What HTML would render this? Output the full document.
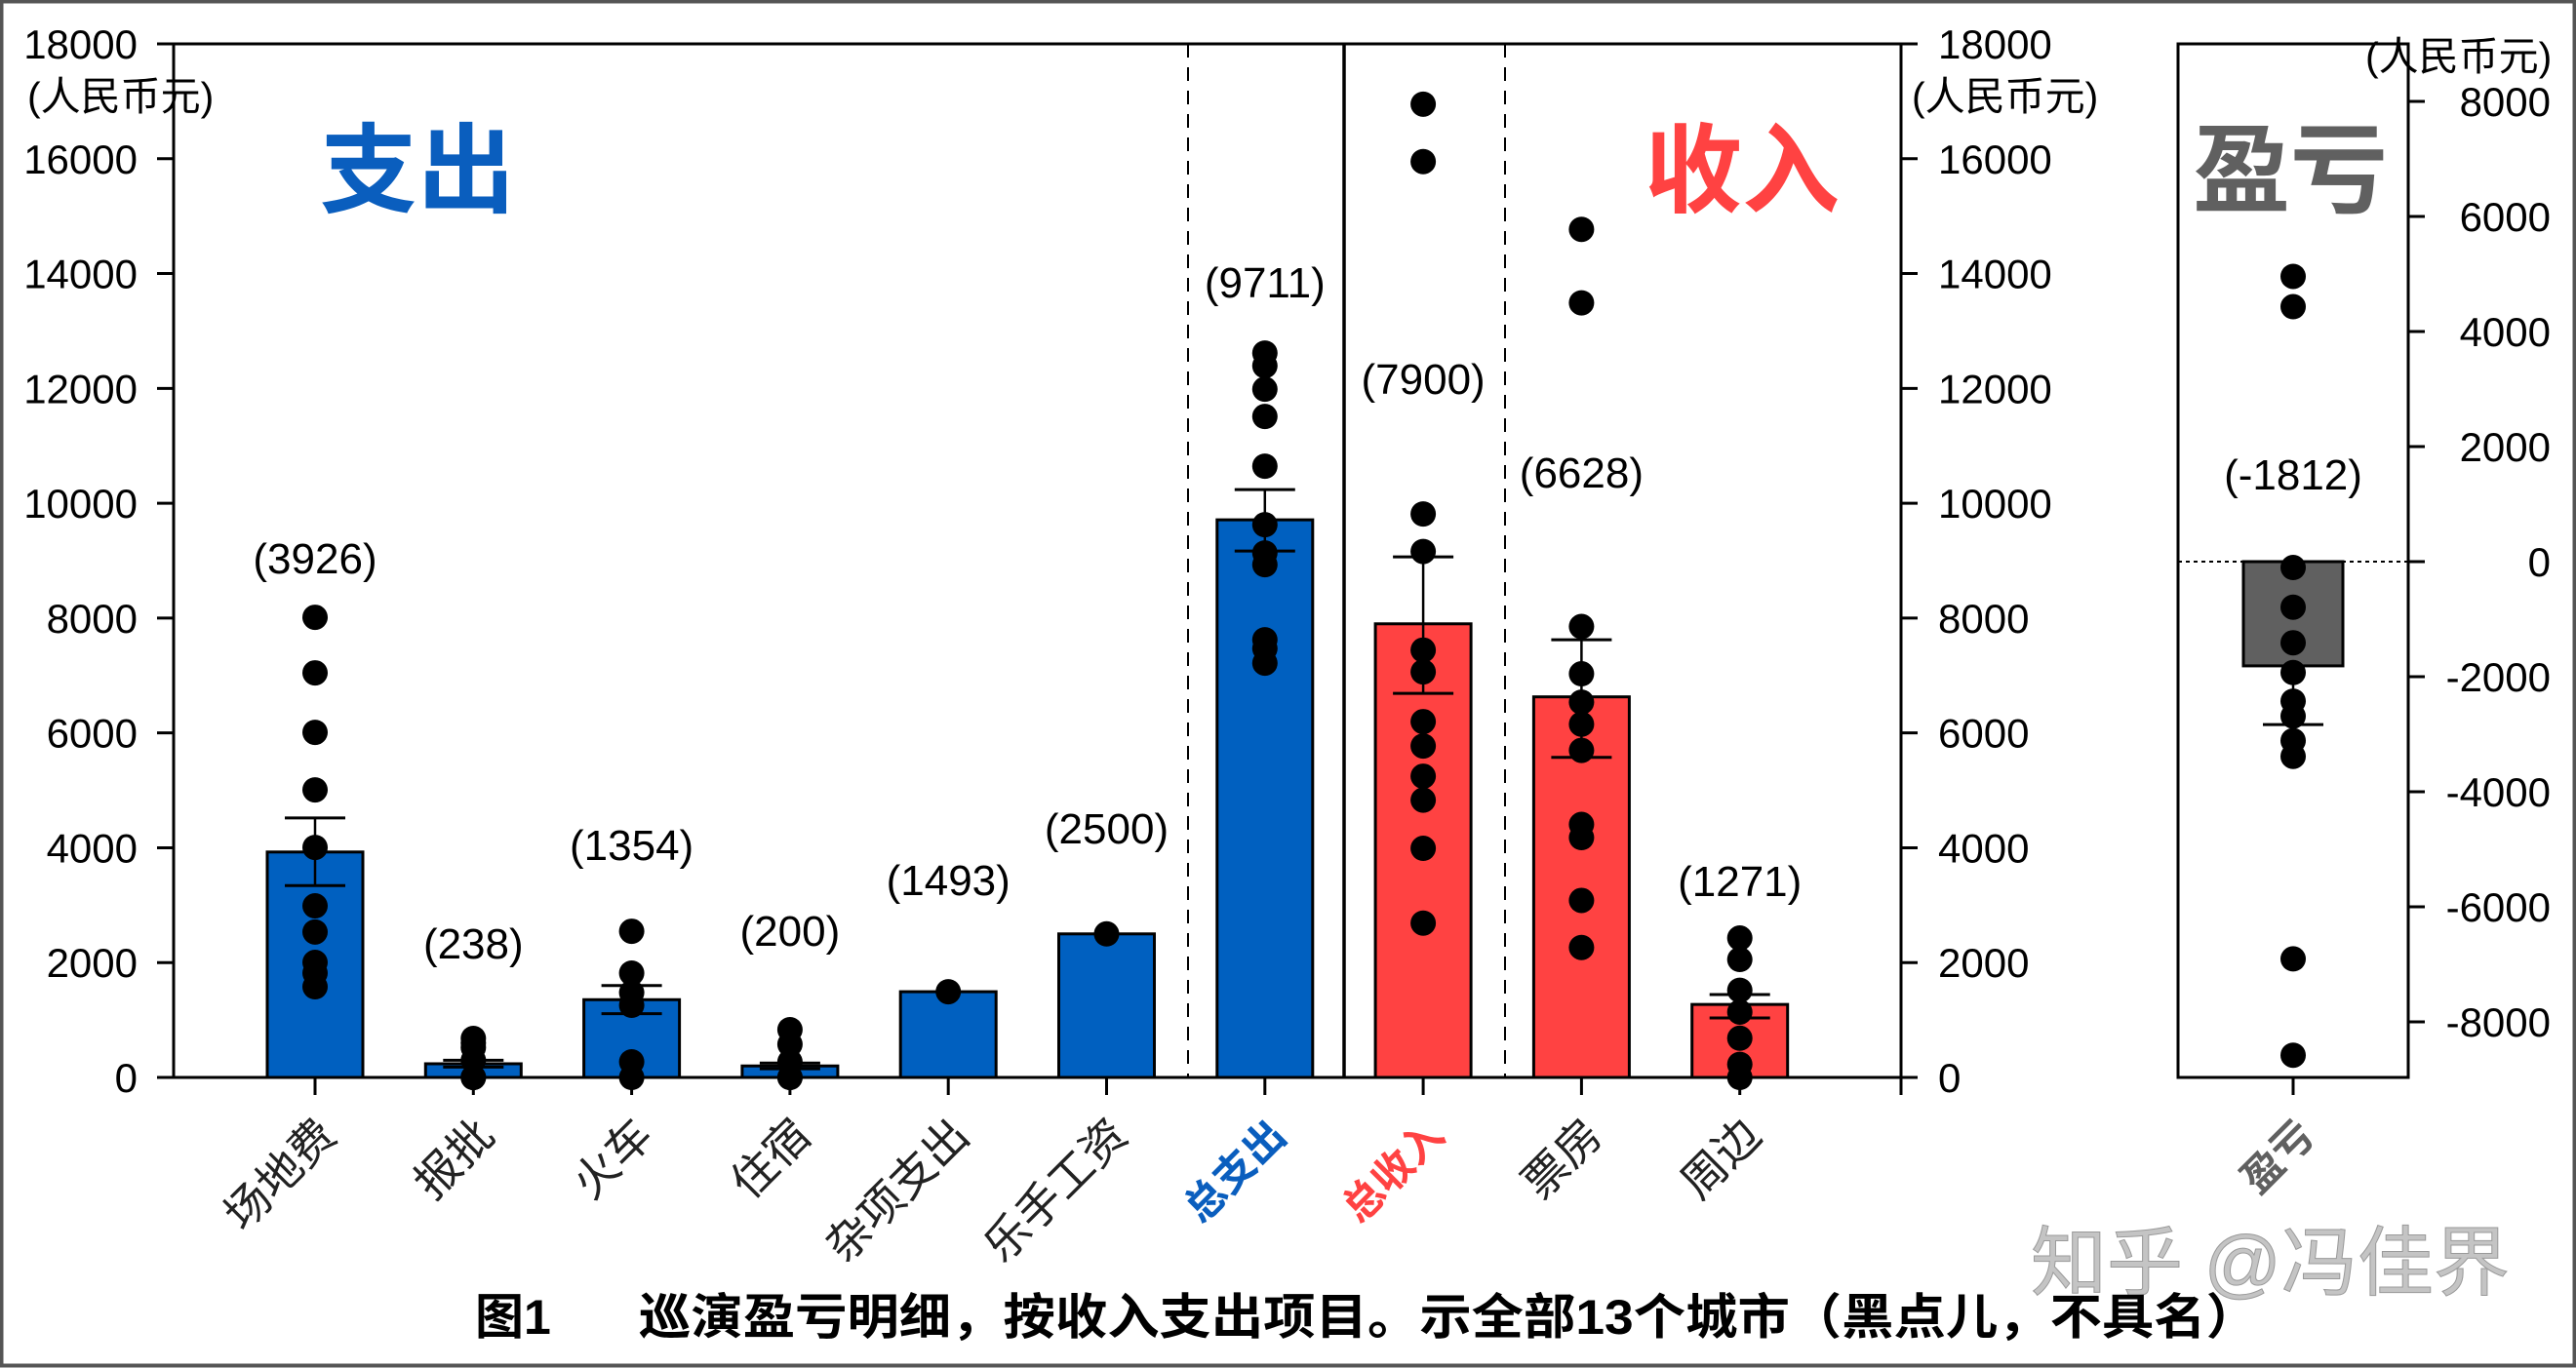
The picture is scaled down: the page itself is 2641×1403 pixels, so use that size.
<!DOCTYPE html>
<html><head><meta charset="utf-8">
<style>
html,body{margin:0;padding:0;background:#fff;}
svg{display:block;}
text{font-family:"Liberation Sans","Noto Sans CJK SC",sans-serif;}
</style></head>
<body>
<svg id="chart" width="2641" height="1403" viewBox="0 0 2641 1403" xmlns="http://www.w3.org/2000/svg">
<rect x="1.5" y="1.5" width="2638" height="1399" fill="#fff" stroke="#555" stroke-width="4"/>
<g id="g"></g>
</svg>
<script>
const categories = ["场地费","报批","火车","住宿","杂项支出","乐手工资","总支出","总收入","票房","周边"];
const means = [3926,238,1354,200,1493,2500,9711,7900,6628,1271];
const errHi = [4520,300,1600,250,1493,2500,10237,9066,7623,1443];
const errLo = [3340,180,1110,150,1493,2500,9168,6689,5574,1036];
const points = [
 [8014,7046,6010,5008,4006,2988,2533,2003,1817,1579],
 [680,600,520,300,0,0,0],
 [2546,1817,1477,1256,272,0],
 [832,577,272,0,0],
 [1493],
 [2500],
 [12615,12394,11986,11511,10645,9626,9134,8930,7623,7470,7215],
 [16950,15950,9813,9160,7443,7063,6197,5772,5246,4830,3990,2688],
 [14770,13490,7853,7030,6536,6152,5696,4406,4177,3083,2263],
 [2428,2054,1518,1138,683,228,0]
];
const labelVals = [9030,2330,4040,2550,3430,4330,13840,12160,10530,3410];
const leftTicks = [0,2000,4000,6000,8000,10000,12000,14000,16000,18000];
const plMean = [-1812];
const plErrLo = [-2832];
const plPoints = [4958,4432,-102,-792,-1410,-1928,-2425,-2686,-3112,-3385,-6905,-8580];
const plTicks = [-8000,-6000,-4000,-2000,0,2000,4000,6000,8000];
const plLabelVal = [1510];

const NS="http://www.w3.org/2000/svg";
const g=document.getElementById('g');
function el(tag,attrs,parent){const e=document.createElementNS(NS,tag);for(const k in attrs)e.setAttribute(k,attrs[k]);(parent||g).appendChild(e);return e;}
const y0=1105, yTop=45;
const yL=v=>y0-(v/18000)*(y0-yTop);
const xL=i=>323+i*162.3;
const yR=v=>576-(v/9000)*(576-45);
const colors=["#0060C0","#0060C0","#0060C0","#0060C0","#0060C0","#0060C0","#0060C0","#FF4242","#FF4242","#FF4242"];
const bw=98;

let e;
e=el('rect',{x:178,y:45,width:1771,height:1060,fill:'none',stroke:'#000','stroke-width':3});


e=el('line',{x1:1218,y1:45,x2:1218,y2:1105,stroke:'#000','stroke-width':2,'stroke-dasharray':'14,10'});


e=el('line',{x1:1378,y1:45,x2:1378,y2:1105,stroke:'#000','stroke-width':3.5});


e=el('line',{x1:1543,y1:45,x2:1543,y2:1105,stroke:'#000','stroke-width':2,'stroke-dasharray':'14,10'});



leftTicks.forEach(v=>{
  const y=yL(v);
  e=el('line',{x1:161,y1:y,x2:178,y2:y,stroke:'#000','stroke-width':3});
  
  
  e=el('text',{x:141,y:y+15,'font-size':42,'text-anchor':'end',fill:'#000'});
  e.textContent=v;
  
  
  e=el('line',{x1:1949,y1:y,x2:1966,y2:y,stroke:'#000','stroke-width':3});
  
  
  e=el('text',{x:1987,y:y+15,'font-size':42,'text-anchor':'start',fill:'#000'});
  e.textContent=v;
  
  
});
e=el('text',{x:28,y:113,'font-size':41,fill:'#000'});e.textContent='(人民币元)';


e=el('text',{x:1960,y:113,'font-size':41,fill:'#000'});e.textContent='(人民币元)';



categories.forEach((c,i)=>{
  const x=xL(i), yt=yL(means[i]);
  e=el('rect',{x:x-bw/2,y:yt,width:bw,height:y0-yt,fill:colors[i],stroke:'#000','stroke-width':3});
  
  
  e=el('line',{x1:x,y1:y0,x2:x,y2:y0+18,stroke:'#000','stroke-width':3});
  
  
  if(errHi[i]!==errLo[i]){
    e=el('line',{x1:x,y1:yL(errHi[i]),x2:x,y2:yL(errLo[i]),stroke:'#000','stroke-width':2.5});
    
    
    [errHi[i],errLo[i]].forEach(v=>{
      e=el('line',{x1:x-31,y1:yL(v),x2:x+31,y2:yL(v),stroke:'#000','stroke-width':3});
      
      
    });
  }
  points[i].forEach(v=>{
    e=el('circle',{cx:x,cy:yL(v),r:13,fill:'#000'});
    
    
  });
  e=el('text',{x:x,y:yL(labelVals[i])+15,'font-size':44,'text-anchor':'middle',fill:'#000'});
  e.textContent='('+means[i]+')';
  
  
  const special=(i===6||i===7);
  e=el('text',{x:0,y:0,'font-size':special?42:46,'text-anchor':'end',fill:i===6?'#0A5EBE':(i===7?'#FF4242':'#222'),'font-weight':special?'bold':'normal',
    'font-family':special?'"Liberation Sans","Noto Sans CJK SC",sans-serif':'"Liberation Serif","Noto Serif CJK SC",serif',
    transform:`translate(${x+24},${y0+62}) rotate(-45)`});
  e.textContent=c;
  
  
});
e=el('line',{x1:1949,y1:y0,x2:1949,y2:y0+18,stroke:'#000','stroke-width':3});



e=el('text',{x:328,y:210,'font-size':100,'font-weight':'bold',fill:'#0A5EBE'});e.textContent='支出';


e=el('text',{x:1686,y:210,'font-size':100,'font-weight':'bold',fill:'#FF4242'});e.textContent='收入';


e=el('text',{x:2248,y:210,'font-size':100,'font-weight':'bold',fill:'#606060'});e.textContent='盈亏';



e=el('rect',{x:2233,y:45,width:236,height:1060,fill:'none',stroke:'#000','stroke-width':3});


e=el('line',{x1:2233,y1:yR(0),x2:2469,y2:yR(0),stroke:'#000','stroke-width':2,'stroke-dasharray':'4,4'});


plTicks.forEach(v=>{
  const y=yR(v);
  e=el('line',{x1:2469,y1:y,x2:2486,y2:y,stroke:'#000','stroke-width':3});
  
  
  e=el('text',{x:2615,y:y+15,'font-size':42,'text-anchor':'end',fill:'#000'});
  e.textContent=v;
  
  
});
e=el('text',{x:2425,y:72,'font-size':41,fill:'#000'});e.textContent='(人民币元)';


const px=2351;
e=el('rect',{x:px-51,y:yR(0),width:102,height:yR(plMean[0])-yR(0),fill:'#606060',stroke:'#000','stroke-width':3});


e=el('line',{x1:px,y1:yR(plMean[0]),x2:px,y2:yR(plErrLo[0]),stroke:'#000','stroke-width':2.5});


e=el('line',{x1:px-31,y1:yR(plErrLo[0]),x2:px+31,y2:yR(plErrLo[0]),stroke:'#000','stroke-width':3});


plPoints.forEach(v=>{
  e=el('circle',{cx:px,cy:yR(v),r:13,fill:'#000'});
  
  
});
e=el('line',{x1:px,y1:1105,x2:px,y2:1123,stroke:'#000','stroke-width':3});


e=el('text',{x:px,y:yR(plLabelVal[0])+15,'font-size':44,'text-anchor':'middle',fill:'#000'});
e.textContent='('+plMean[0]+')';


e=el('text',{'font-size':42,'font-weight':'bold','text-anchor':'end',fill:'#606060',transform:`translate(${px+24},${1167}) rotate(-45)`});
e.textContent='盈亏';



e=el('text',{x:2082,y:1322,'font-size':78,fill:'#c4c4c4',stroke:'#9a9a9a','stroke-width':1});
e.textContent='知乎 @冯佳界';


e=el('text',{x:487,y:1368,'font-size':50,'font-weight':'bold',fill:'#000'});
e.textContent='图1';


e=el('text',{x:655,y:1368,'font-size':50,'font-weight':'bold',fill:'#000',textLength:1660,lengthAdjust:'spacingAndGlyphs'});
e.textContent='巡演盈亏明细，按收入支出项目。示全部13个城市（黑点儿，不具名）';


</script>
</body></html>
